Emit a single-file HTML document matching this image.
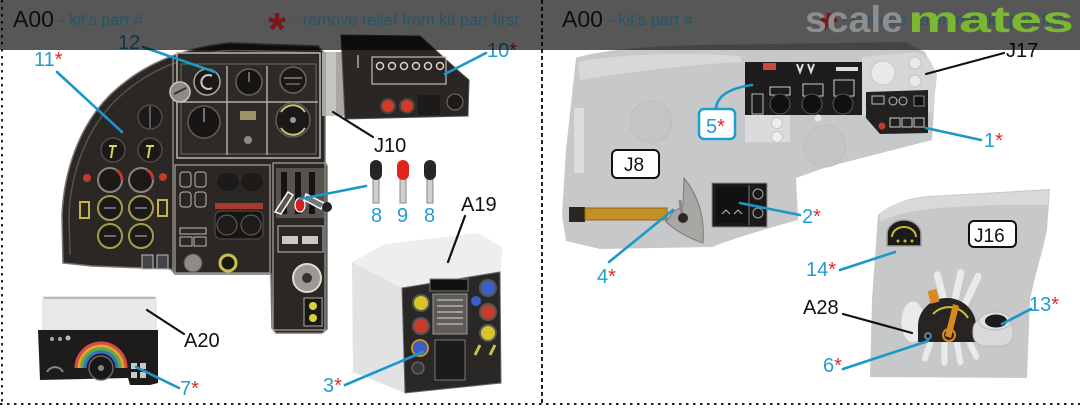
<!DOCTYPE html>
<html><head><meta charset="utf-8"><style>
html,body{margin:0;padding:0;background:#fff;}
svg{display:block;}
text{font-family:"Liberation Sans",Arial,sans-serif;}
</style></head><body>
<svg width="1080" height="409" viewBox="0 0 1080 409" xmlns="http://www.w3.org/2000/svg">
<rect width="1080" height="409" fill="#fff"/>

<!-- ===== Main dashboard ===== -->
<path d="M63,263 L62,215 C64,170 80,125 110,95 C140,66 180,48 230,43 L318,46 L325,54 L325,162 L327,166 L327,329 L322,333 L276,333 L272,328 L271,274 L175,274 L171,269 L92,266 Z" fill="#2b2724" stroke="#77736e" stroke-width="1.5"/>
<path d="M70,255 L69,215 C71,172 86,130 115,101 C144,72 183,55 232,50 L316,53" fill="none" stroke="#56524e" stroke-width="1.5"/>
<line x1="173" y1="56" x2="173" y2="272" stroke="#8a8680" stroke-width="1.5"/>
<!-- upper instrument box -->
<rect x="177" y="53" width="143" height="105" fill="#2e2a27" stroke="#b9b5ae" stroke-width="1.5"/>
<rect x="181" y="64" width="135" height="90" fill="none" stroke="#6f6b66" stroke-width="1"/>
<line x1="227" y1="66" x2="227" y2="155" stroke="#b0aca5" stroke-width="1.5"/>
<line x1="267" y1="66" x2="267" y2="155" stroke="#b0aca5" stroke-width="1.5"/>
<line x1="181" y1="102" x2="318" y2="102" stroke="#b0aca5" stroke-width="1.5"/>
<circle cx="207" cy="82" r="13" fill="#1b1917" stroke="#aaa69f" stroke-width="1.5"/>
<path d="M212,76 A7,7 0 1 0 212,88" fill="none" stroke="#cfcac2" stroke-width="2"/>
<circle cx="249" cy="82" r="13" fill="#161412" stroke="#66625d" stroke-width="1.5"/>
<line x1="249" y1="82" x2="249" y2="72" stroke="#bbb" stroke-width="1"/>
<circle cx="293" cy="80" r="13" fill="#1b1917" stroke="#66625d" stroke-width="1.5"/>
<line x1="284" y1="78" x2="302" y2="78" stroke="#bbb" stroke-width="1"/>
<line x1="286" y1="84" x2="300" y2="84" stroke="#999" stroke-width="1"/>
<circle cx="204" cy="122" r="16" fill="#181614" stroke="#605c57" stroke-width="1.5"/>
<line x1="204" y1="122" x2="204" y2="108" stroke="#ccc" stroke-width="1"/>
<rect x="240" y="111" width="16" height="9" fill="#c8c085" opacity="0.7"/>
<circle cx="248" cy="140" r="4" fill="#8d8a85"/>
<circle cx="293" cy="120" r="17" fill="#1b1917" stroke="#605c57" stroke-width="1.5"/>
<path d="M281,112 A14,14 0 0 1 305,112 M281,128 A14,14 0 0 0 305,128" fill="none" stroke="#c6c27a" stroke-width="2"/>
<circle cx="293" cy="120" r="3" fill="#999"/>
<!-- left gauges -->
<circle cx="180" cy="92" r="10" fill="#8d8a85" stroke="#c9c5bf" stroke-width="1.5"/>
<path d="M174,94 L186,88" stroke="#333" stroke-width="2"/>
<circle cx="150" cy="117" r="12" fill="#1c1a18" stroke="#4f4b47" stroke-width="1.5"/>
<line x1="150" y1="106" x2="150" y2="128" stroke="#999" stroke-width="1"/>
<circle cx="113" cy="150" r="12" fill="#1c1a18" stroke="#4f4b47" stroke-width="1.5"/>
<circle cx="150" cy="150" r="12" fill="#1c1a18" stroke="#4f4b47" stroke-width="1.5"/>
<path d="M109,146 L117,146 M113,146 L111,158 M146,146 L154,146 M150,146 L148,158" stroke="#d8d060" stroke-width="2"/>
<circle cx="110" cy="180" r="12" fill="#1c1a18" stroke="#8a857f" stroke-width="2"/>
<circle cx="141" cy="180" r="12" fill="#1c1a18" stroke="#8a857f" stroke-width="2"/>
<path d="M116,170 A12,12 0 0 1 122,180 M147,170 A12,12 0 0 1 153,180" fill="none" stroke="#c23a2a" stroke-width="3"/>
<circle cx="110" cy="208" r="12" fill="#1c1a18" stroke="#a89c4a" stroke-width="2"/>
<circle cx="141" cy="208" r="12" fill="#1c1a18" stroke="#a89c4a" stroke-width="2"/>
<circle cx="110" cy="236" r="12" fill="#1c1a18" stroke="#a89c4a" stroke-width="2"/>
<circle cx="141" cy="236" r="12" fill="#1c1a18" stroke="#a89c4a" stroke-width="2"/>
<path d="M104,208 L116,208 M135,208 L147,208 M104,236 L116,236 M135,236 L147,236" stroke="#bbb" stroke-width="1"/>
<rect x="80" y="202" width="9" height="16" fill="#2b2724" stroke="#c8b34a" stroke-width="2"/>
<rect x="158" y="200" width="9" height="16" fill="#2b2724" stroke="#c8b34a" stroke-width="2"/>
<circle cx="87" cy="178" r="4" fill="#c33a2a"/>
<circle cx="163" cy="177" r="4" fill="#c33a2a"/>
<rect x="142" y="255" width="11" height="14" fill="#444" stroke="#bbb" stroke-width="1"/>
<rect x="157" y="255" width="11" height="14" fill="#444" stroke="#bbb" stroke-width="1"/>
<!-- middle lower -->
<rect x="175" y="165" width="95" height="108" fill="none" stroke="#aaa69f" stroke-width="1.2"/>
<rect x="180" y="172" width="11" height="15" rx="3" fill="#2a2623" stroke="#bdb9b2"/>
<rect x="195" y="172" width="11" height="15" rx="3" fill="#2a2623" stroke="#bdb9b2"/>
<rect x="180" y="192" width="11" height="15" rx="3" fill="#2a2623" stroke="#bdb9b2"/>
<rect x="195" y="192" width="11" height="15" rx="3" fill="#2a2623" stroke="#bdb9b2"/>
<ellipse cx="228" cy="182" rx="11" ry="9" fill="#1d1b19"/>
<ellipse cx="252" cy="182" rx="11" ry="9" fill="#1d1b19"/>
<rect x="215" y="203" width="48" height="6" fill="#a83a32"/>
<rect x="215" y="211" width="48" height="28" rx="6" fill="#171513" stroke="#55514d"/>
<circle cx="227" cy="225" r="10" fill="#1e1c1a" stroke="#6a6661"/>
<circle cx="251" cy="225" r="10" fill="#1e1c1a" stroke="#6a6661"/>
<rect x="180" y="228" width="26" height="6" fill="none" stroke="#bbb"/>
<rect x="180" y="237" width="12" height="9" fill="none" stroke="#bbb"/>
<rect x="194" y="237" width="12" height="9" fill="none" stroke="#bbb"/>
<circle cx="193" cy="263" r="9" fill="#8f8c88" stroke="#55514d"/>
<circle cx="228" cy="263" r="8" fill="#1a1816" stroke="#c9c24a" stroke-width="3"/>
<!-- right column -->
<rect x="273" y="163" width="52" height="167" fill="none" stroke="#aaa69f" stroke-width="1.2"/>
<rect x="276" y="168" width="48" height="50" fill="#57534f"/>
<rect x="281" y="172" width="6" height="42" fill="#151413"/>
<rect x="295" y="172" width="6" height="42" fill="#151413"/>
<rect x="309" y="172" width="6" height="42" fill="#151413"/>
<polygon points="275,212 288,192 293,195 281,214" fill="#5a5653" stroke="#fff" stroke-width="1.5"/>
<ellipse cx="300" cy="205" rx="5" ry="7" fill="#d42020" stroke="#fff" stroke-width="1.2"/>
<polygon points="306,194 324,203 321,209 304,200" fill="#777" stroke="#fff" stroke-width="1.5"/>
<circle cx="327" cy="207" r="5" fill="#222"/>
<rect x="278" y="226" width="45" height="26" fill="none" stroke="#bbb"/>
<rect x="282" y="236" width="16" height="8" fill="#c9c9c9"/>
<rect x="302" y="236" width="16" height="8" fill="#c9c9c9"/>
<circle cx="307" cy="278" r="14" fill="#9c9995" stroke="#dedad4" stroke-width="2"/>
<circle cx="307" cy="278" r="5" fill="#333"/>
<rect x="304" y="298" width="18" height="28" fill="#1a1816" stroke="#aaa"/>
<circle cx="313" cy="306" r="4" fill="#d5d13a"/>
<circle cx="313" cy="318" r="4" fill="#d5d13a"/>

<!-- ===== Panel 10 ===== -->
<rect x="322" y="52" width="24" height="64" fill="#a9a7a4"/>
<rect x="326" y="52" width="10" height="64" fill="#c6c4c1"/>
<path d="M341,35 L420,36 L462,74 L469,80 L468,116 L345,119 Z" fill="#2a2623" stroke="#55514d"/>
<rect x="372" y="57" width="74" height="27" fill="none" stroke="#bfbbb4" stroke-width="1.2"/>
<g fill="none" stroke="#d8d4cc" stroke-width="1.5">
<circle cx="380" cy="66" r="3.5"/><circle cx="392" cy="66" r="3.5"/><circle cx="404" cy="66" r="3.5"/>
<circle cx="416" cy="66" r="3.5"/><circle cx="428" cy="66" r="3.5"/><circle cx="440" cy="66" r="3.5"/>
</g>
<circle cx="388" cy="106" r="7" fill="#d23a2a" stroke="#4a4440" stroke-width="2"/>
<circle cx="407" cy="106" r="7" fill="#d23a2a" stroke="#4a4440" stroke-width="2"/>
<rect x="418" y="95" width="22" height="20" fill="#1d1b19"/>
<circle cx="455" cy="102" r="8" fill="#1d1b19" stroke="#77736e"/>
<line x1="358" y1="55" x2="358" y2="68" stroke="#aaa" stroke-width="1.5"/>

<!-- ===== Levers 8 9 8 ===== -->
<g stroke="#8a8a8a" stroke-width="1">
<rect x="373" y="176" width="6" height="27" fill="#cfcfcf"/>
<rect x="400" y="176" width="6" height="27" fill="#cfcfcf"/>
<rect x="427" y="176" width="6" height="27" fill="#cfcfcf"/>
</g>
<rect x="370" y="160" width="12" height="20" rx="6" fill="#262626"/>
<rect x="397" y="160" width="12" height="20" rx="6" fill="#e0251b"/>
<rect x="424" y="160" width="12" height="20" rx="6" fill="#262626"/>

<!-- ===== A19 ===== -->
<polygon points="352,262 385,244 478,233 503,248 500,272 402,288" fill="#eceeef"/>
<polygon points="352,262 402,288 405,393 353,372" fill="#e0e2e3"/>
<polygon points="402,288 500,272 501,383 405,393" fill="#2a2826" stroke="#6a6661"/>
<rect x="430" y="279" width="38" height="12" fill="#111" stroke="#777"/>
<rect x="433" y="294" width="34" height="40" fill="#5f5b57" stroke="#999"/>
<g stroke="#ddd" stroke-width="1"><line x1="437" y1="300" x2="463" y2="300"/><line x1="437" y1="306" x2="463" y2="306"/><line x1="437" y1="312" x2="463" y2="312"/><line x1="437" y1="318" x2="463" y2="318"/><line x1="437" y1="324" x2="463" y2="324"/></g>
<rect x="435" y="340" width="30" height="40" fill="#1c1a18" stroke="#777"/>
<circle cx="421" cy="303" r="8" fill="#d6c42a" stroke="#555" stroke-width="2"/>
<circle cx="421" cy="326" r="8" fill="#c83a2a" stroke="#555" stroke-width="2"/>
<circle cx="420" cy="348" r="8" fill="#3a5ec8" stroke="#d08a2a" stroke-width="2"/>
<circle cx="418" cy="368" r="6" fill="#3a3a3a" stroke="#777"/>
<circle cx="488" cy="288" r="8" fill="#3a5ec8" stroke="#555" stroke-width="2"/>
<circle cx="476" cy="301" r="5" fill="#3a5ec8"/>
<circle cx="488" cy="312" r="8" fill="#c83a2a" stroke="#555" stroke-width="2"/>
<circle cx="488" cy="333" r="8" fill="#d6c42a" stroke="#555" stroke-width="2"/>
<path d="M475,355 L480,345 M490,355 L495,345" stroke="#c9c24a" stroke-width="3"/>

<!-- ===== A20 ===== -->
<rect x="42" y="296" width="115" height="34" fill="#e7e9e9"/>
<line x1="44" y1="298" x2="155" y2="298" stroke="#a9aaaa" stroke-width="1.5"/>
<polygon points="38,330 158,330 158,383 150,385 130,385 128,378 40,380" fill="#1e1c1b"/>
<path d="M76,368 A25,25 0 0 1 126,368" fill="none" stroke="#d94a4a" stroke-width="3"/>
<path d="M79,368 A22,22 0 0 1 123,368" fill="none" stroke="#e0a52a" stroke-width="3"/>
<path d="M82,368 A19,19 0 0 1 120,368" fill="none" stroke="#5aae4a" stroke-width="3"/>
<path d="M85,368 A16,16 0 0 1 117,368" fill="none" stroke="#3a6fd0" stroke-width="3"/>
<circle cx="101" cy="368" r="12" fill="#1a1817" stroke="#666" stroke-width="1.5"/>
<circle cx="101" cy="368" r="3" fill="#888"/>
<g fill="#c9c9c9"><rect x="131" y="363" width="6" height="6"/><rect x="140" y="363" width="6" height="6"/><rect x="131" y="372" width="6" height="6"/><rect x="140" y="372" width="6" height="6"/></g>
<circle cx="52" cy="339" r="2" fill="#aaa"/><circle cx="60" cy="339" r="2" fill="#aaa"/><circle cx="68" cy="338" r="2.5" fill="#bbb"/>
<path d="M47,372 A9,9 0 0 1 63,372" fill="none" stroke="#888" stroke-width="2"/>

<!-- ===== J8 panel ===== -->
<path d="M576,58 C600,50 650,46 700,45 L905,42 L925,52 L936,75 L932,140 L893,150 L827,167 L796,178 L798,220 C770,228 740,236 712,247 L600,249 L566,241 L562,215 L566,150 L572,95 Z" fill="#c6c8ca"/>
<path d="M578,62 C620,54 680,52 740,56 L742,62 C700,64 640,70 580,80 Z" fill="#d6d8d9"/>
<rect x="574" y="108" width="10" height="65" fill="#dadcdd"/>
<circle cx="651" cy="122" r="21" fill="#c2c4c6" stroke="#bbbdbf"/>
<circle cx="825" cy="146" r="21" fill="#c2c4c6" stroke="#bbbdbf"/>
<!-- panel 5 -->
<rect x="745" y="62" width="117" height="53" fill="#1e1d1c"/>
<rect x="763" y="63" width="13" height="7" fill="#c94a40"/>
<path d="M797,64 L800,72 L803,64 M808,64 L811,72 L814,64" fill="none" stroke="#ddd" stroke-width="2"/>
<rect x="836" y="67" width="22" height="4" fill="#ddd"/>
<rect x="752" y="94" width="11" height="20" fill="none" stroke="#bbb"/>
<rect x="770" y="87" width="20" height="8" fill="none" stroke="#ccc"/>
<rect x="803" y="84" width="20" height="12" fill="none" stroke="#ccc"/>
<rect x="834" y="80" width="20" height="16" fill="none" stroke="#ccc"/>
<circle cx="780" cy="104" r="10" fill="#121110" stroke="#5a5651"/>
<circle cx="812" cy="104" r="10" fill="#121110" stroke="#5a5651"/>
<circle cx="843" cy="104" r="10" fill="#121110" stroke="#5a5651"/>
<rect x="745" y="115" width="45" height="27" fill="#d9dbdc"/>
<circle cx="777" cy="123" r="5.5" fill="#eeeff0" stroke="#c4c6c7"/>
<circle cx="777" cy="137" r="5.5" fill="#eeeff0" stroke="#c4c6c7"/>
<circle cx="818" cy="118" r="3.5" fill="#e6e7e8"/>
<!-- J17 bracket -->
<polygon points="862,57 918,52 930,60 937,75 933,112 862,115" fill="#d4d6d7"/>
<circle cx="883" cy="73" r="12" fill="#e8e9ea" stroke="#c8cacb"/>
<circle cx="915" cy="63" r="6" fill="#e8e9ea" stroke="#c2c4c5"/>
<circle cx="915" cy="81" r="6" fill="#e8e9ea" stroke="#c2c4c5"/>
<!-- panel 1 -->
<polygon points="866,92 928,90 928,133 880,134 866,118" fill="#222120"/>
<rect x="872" y="96" width="12" height="8" fill="none" stroke="#bbb"/>
<circle cx="893" cy="101" r="4" fill="none" stroke="#bbb"/>
<circle cx="903" cy="101" r="4" fill="none" stroke="#bbb"/>
<rect x="914" y="96" width="10" height="10" fill="#111" stroke="#888"/>
<circle cx="882" cy="126" r="3.5" fill="#c43a2a"/>
<rect x="890" y="118" width="10" height="9" fill="none" stroke="#ccc"/>
<rect x="902" y="118" width="10" height="9" fill="none" stroke="#ccc"/>
<rect x="914" y="118" width="10" height="9" fill="none" stroke="#ccc"/>
<!-- lever 4 -->
<rect x="569" y="207" width="16" height="15" fill="#2a2622"/>
<rect x="585" y="208" width="82" height="12" fill="#c48f24" stroke="#8a6a1a"/>
<path d="M684,178 Q706,205 703,243 Q682,236 666,222 L673,212 L683,206 Z" fill="#a9a7a4" stroke="#7a7876"/>
<line x1="680" y1="200" x2="682" y2="215" stroke="#888" stroke-width="3"/>
<circle cx="683" cy="218" r="5" fill="#2a2826"/>
<!-- panel 2 -->
<rect x="712" y="183" width="55" height="44" fill="#1b1a19" stroke="#8d8d8d"/>
<rect x="716" y="187" width="32" height="36" fill="#111"/>
<line x1="749" y1="185" x2="749" y2="225" stroke="#777"/>
<circle cx="758" cy="194" r="5" fill="none" stroke="#aaa"/>
<circle cx="758" cy="213" r="5" fill="none" stroke="#aaa"/>
<path d="M722,214 L726,210 L730,214 M734,214 L738,210 L742,214" fill="none" stroke="#bbb"/>

<!-- ===== J16 panel ===== -->
<path d="M878,215 C890,205 905,198 930,196 L1000,192 L1050,189 L1047,230 C1043,250 1035,275 1030,300 L1027,378 L870,377 L872,300 Z" fill="#c6c8ca"/>
<path d="M880,213 C892,204 906,199 930,197 L1000,193 L1049,190 L1048,205 C1010,204 960,206 930,209 C905,212 890,216 880,222 Z" fill="#d8d9db"/>
<path d="M887,246 L887,234 A17,14 0 0 1 921,234 L921,246 Z" fill="#1d1b19" stroke="#a0a0a0" stroke-width="1.5"/>
<path d="M892,237 A12,10 0 0 1 916,237" fill="none" stroke="#c9b93a" stroke-width="2"/>
<circle cx="898" cy="241" r="1.5" fill="#c9b93a"/><circle cx="905" cy="241" r="1.5" fill="#c9b93a"/><circle cx="912" cy="241" r="1.5" fill="#c9b93a"/>
<!-- A28 -->
<g stroke="#c8c9ca" stroke-width="1" fill="#e9eaeb">
<rect x="951" y="268" width="8" height="40" rx="4" transform="rotate(12 955 300)"/>
<rect x="963" y="270" width="8" height="40" rx="4" transform="rotate(25 967 300)"/>
<rect x="940" y="270" width="8" height="38" rx="4" transform="rotate(-15 944 300)"/>
<rect x="928" y="335" width="7" height="28" rx="3.5" transform="rotate(20 931 340)"/>
<rect x="941" y="338" width="7" height="28" rx="3.5"/>
<rect x="953" y="338" width="7" height="28" rx="3.5" transform="rotate(-10 956 340)"/>
<rect x="965" y="336" width="7" height="26" rx="3.5" transform="rotate(-25 968 340)"/>
<ellipse cx="913" cy="322" rx="12" ry="21"/>
</g>
<path d="M918,342 L918,326 A29,28 0 0 1 976,326 L976,342 Z" fill="#282422"/>
<path d="M933,314 A22,22 0 0 1 968,318" fill="none" stroke="#c9c03a" stroke-width="2"/>
<polygon points="945,336 953,304 959,306 951,338" fill="#d98a1e"/>
<rect x="929" y="290" width="9" height="13" fill="#d98a1e" transform="rotate(-15 933 296)"/>
<circle cx="949" cy="335" r="6" fill="none" stroke="#d98a1e" stroke-width="2"/>
<circle cx="928" cy="336" r="3" fill="none" stroke="#5aa0d0" stroke-width="1.5"/>
<!-- 13 knob -->
<rect x="973" y="318" width="40" height="28" rx="12" fill="#d7d9da" stroke="#b8babb"/>
<ellipse cx="995" cy="321" rx="16" ry="9" fill="#dcdedf" stroke="#b8babb"/>
<ellipse cx="996" cy="321" rx="11" ry="6.5" fill="#1b1b1b"/>

<!-- ===== Leader lines ===== -->
<g stroke="#1b98c9" stroke-width="2.6" fill="none" stroke-linecap="round">
<line x1="57" y1="72" x2="122" y2="132"/>
<line x1="143" y1="47" x2="215" y2="72"/>
<line x1="486" y1="53" x2="445" y2="74"/>
<line x1="366" y1="186" x2="300" y2="199"/>
<line x1="345" y1="385" x2="423" y2="352"/>
<line x1="179" y1="388" x2="136" y2="367"/>
<path d="M716,109 Q717,90 752,85"/>
<line x1="981" y1="140" x2="926" y2="128"/>
<line x1="800" y1="215" x2="740" y2="203"/>
<line x1="609" y1="262" x2="673" y2="210"/>
<line x1="840" y1="270" x2="895" y2="252"/>
<line x1="843" y1="369" x2="928" y2="341"/>
<line x1="1031" y1="309" x2="1002" y2="324"/>
</g>
<g stroke="#111" stroke-width="2.2" fill="none" stroke-linecap="round">
<line x1="333" y1="112" x2="373" y2="137"/>
<line x1="465" y1="216" x2="448" y2="262"/>
<line x1="147" y1="310" x2="184" y2="334"/>
<line x1="926" y1="74" x2="1004" y2="53"/>
<line x1="843" y1="314" x2="912" y2="333"/>
</g>

<!-- ===== Labels ===== -->
<g font-size="20" fill="#229dd3">
<text x="34" y="66">11<tspan fill="#e02a2a">*</tspan></text>
<text x="118" y="49">12</text>
<text x="487" y="57">10<tspan fill="#e02a2a">*</tspan></text>
<text x="371" y="222">8</text>
<text x="397" y="222">9</text>
<text x="424" y="222">8</text>
<text x="323" y="392">3<tspan fill="#e02a2a">*</tspan></text>
<text x="180" y="395">7<tspan fill="#e02a2a">*</tspan></text>
<text x="984" y="147">1<tspan fill="#e02a2a">*</tspan></text>
<text x="802" y="223">2<tspan fill="#e02a2a">*</tspan></text>
<text x="597" y="283">4<tspan fill="#e02a2a">*</tspan></text>
<text x="806" y="276">14<tspan fill="#e02a2a">*</tspan></text>
<text x="823" y="372">6<tspan fill="#e02a2a">*</tspan></text>
<text x="1029" y="311">13<tspan fill="#e02a2a">*</tspan></text>
</g>
<rect x="699" y="109" width="36" height="30" rx="5" fill="#fff" stroke="#1e9dd0" stroke-width="2.5"/>
<text x="706" y="133" font-size="20" fill="#229dd3">5<tspan fill="#e02a2a">*</tspan></text>
<rect x="612" y="150" width="47" height="28" rx="5" fill="#fff" stroke="#111" stroke-width="2"/>
<text x="624" y="171" font-size="19" fill="#111">J8</text>
<rect x="969" y="221" width="47" height="26" rx="5" fill="#fff" stroke="#111" stroke-width="2"/>
<text x="974" y="242" font-size="19" fill="#111">J16</text>
<g font-size="20" fill="#111">
<text x="374" y="152">J10</text>
<text x="461" y="211">A19</text>
<text x="184" y="347">A20</text>
<text x="1006" y="57">J17</text>
<text x="803" y="314">A28</text>
</g>

<!-- ===== Borders ===== -->
<line x1="2" y1="0" x2="2" y2="404" stroke="#222" stroke-width="2" stroke-dasharray="2.5 4.5"/>
<line x1="542" y1="0" x2="542" y2="404" stroke="#222" stroke-width="2" stroke-dasharray="4 3"/>
<line x1="0" y1="404" x2="1080" y2="404" stroke="#222" stroke-width="2" stroke-dasharray="2.5 4.5"/>

<!-- ===== Header overlay ===== -->
<rect x="0" y="0" width="1080" height="50" fill="#000" opacity="0.66"/>
<text x="13" y="27" font-size="23" fill="#0e0e0e">A00</text>
<text x="59" y="25" font-size="15.5" fill="#245669" textLength="84" lengthAdjust="spacingAndGlyphs">- kit's part #</text>
<text x="268" y="45" font-size="46" font-weight="bold" fill="#7d1616">*</text>
<text x="293" y="25" font-size="15.5" fill="#245669" textLength="226" lengthAdjust="spacingAndGlyphs">- remove relief from kit part first</text>
<text x="562" y="27" font-size="23" fill="#0e0e0e">A00</text>
<text x="608" y="25" font-size="15.5" fill="#245669" textLength="85" lengthAdjust="spacingAndGlyphs">- kit's part #</text>
<text x="820" y="45" font-size="46" font-weight="bold" fill="#7d1616">*</text>
<text x="842" y="25" font-size="15.5" fill="#245669" textLength="226" lengthAdjust="spacingAndGlyphs">- remove relief from kit part first</text>
<text x="805" y="32" font-size="37" font-weight="bold" fill="#8e8e8e" textLength="98" lengthAdjust="spacingAndGlyphs">scale</text>
<text x="908" y="32" font-size="37" font-weight="bold" fill="#7cb733" textLength="166" lengthAdjust="spacingAndGlyphs">mates</text>
</svg>
</body></html>
